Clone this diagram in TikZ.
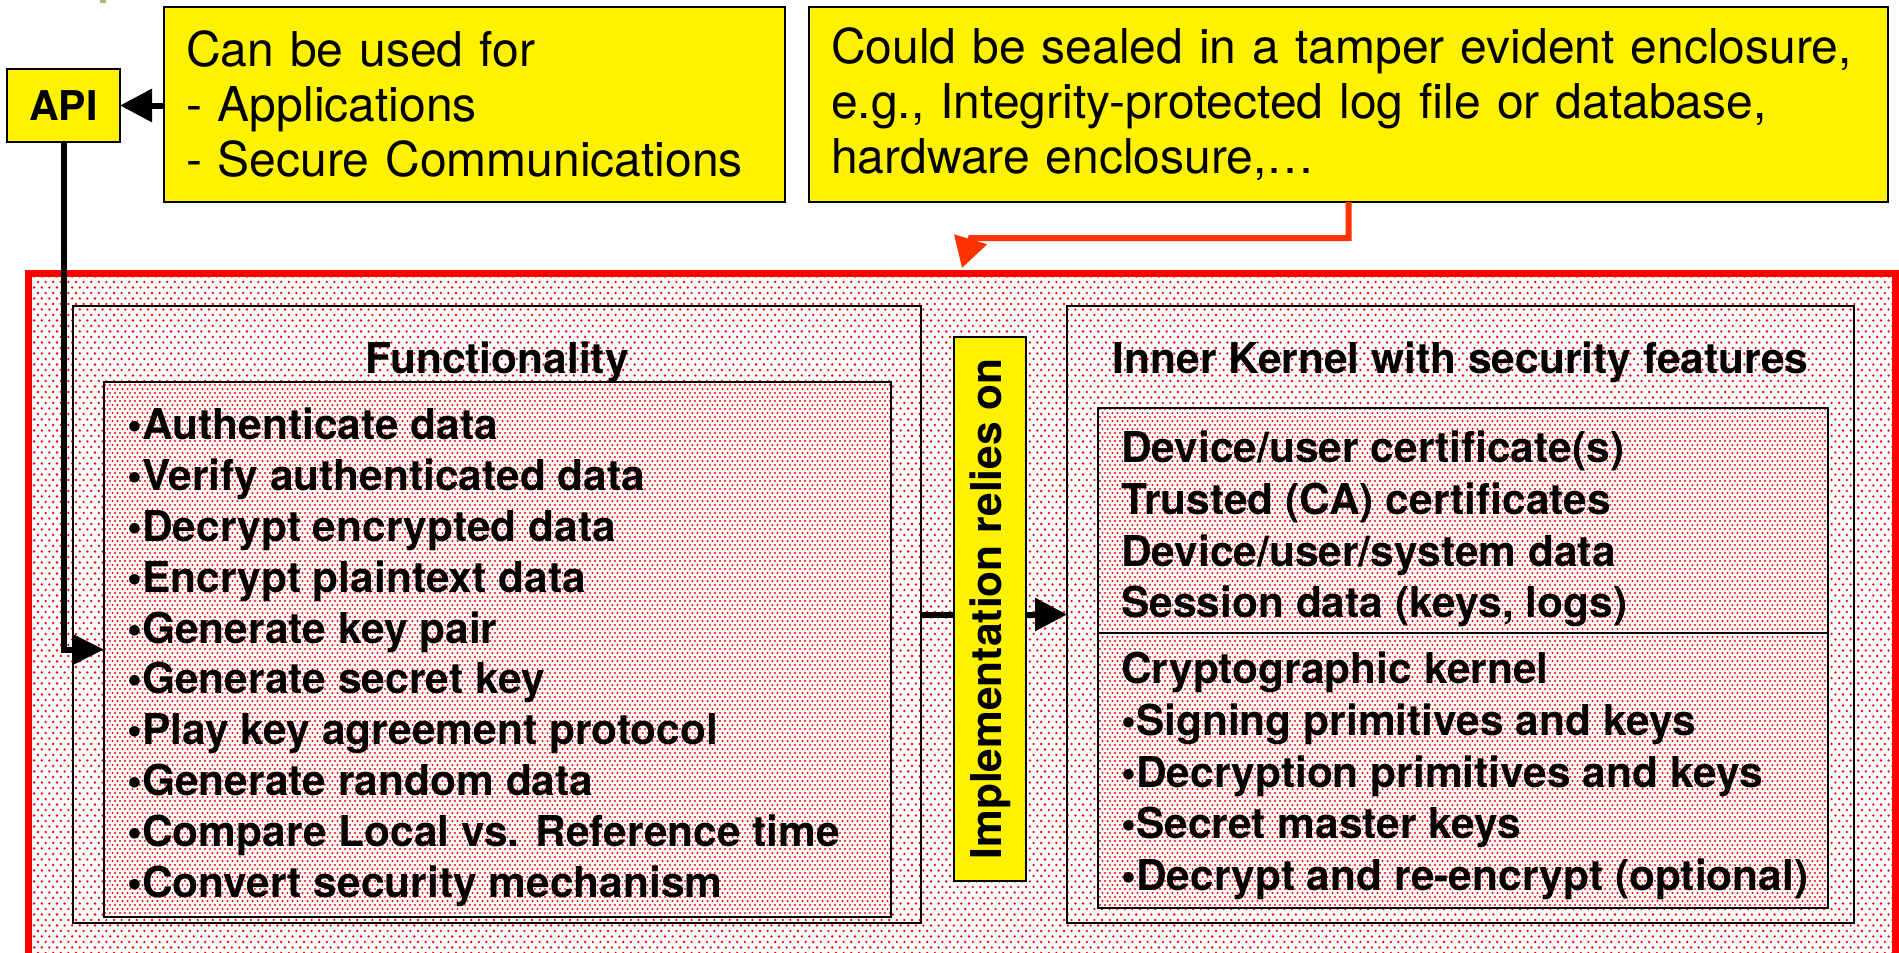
\documentclass[tikz,border=0pt]{standalone}
\usepackage{fontspec}
\setmainfont{TeX Gyre Heros}
\usetikzlibrary{arrows.meta,patterns}

\definecolor{sealred}{RGB}{255,51,0}
\definecolor{markgreen}{RGB}{163,190,110}

% dot screens (coarse for the enclosure, fine for the inner blocks)
\pgfdeclarepatternformonly{sparsedots}{\pgfqpoint{-1.4pt}{-1.4pt}}{\pgfqpoint{6.2pt}{9.6pt}}{\pgfqpoint{7.6pt}{11pt}}{%
  \pgfpathcircle{\pgfqpoint{0pt}{0pt}}{1.3pt}%
  \pgfpathcircle{\pgfqpoint{3.8pt}{5.5pt}}{1.3pt}%
  \pgfusepath{fill}}
\pgfdeclarepatternformonly{densedots}{\pgfqpoint{-1.2pt}{-1.2pt}}{\pgfqpoint{3.8pt}{6.8pt}}{\pgfqpoint{5pt}{8pt}}{%
  \pgfpathcircle{\pgfqpoint{0pt}{0pt}}{1.1pt}%
  \pgfpathcircle{\pgfqpoint{2.5pt}{4pt}}{1.1pt}%
  \pgfusepath{fill}}

\begin{document}
\begin{tikzpicture}[x=1pt,y=-1pt]

% ---- Styles ----
\tikzset{
  notebox/.style={rectangle, draw=black, line width=2pt, fill=yellow,
                  anchor=north west, align=left, inner xsep=22pt, inner ysep=0pt,
                  outer sep=0pt, font=\fontsize{48}{55}\selectfont},
  apibox/.style={rectangle, draw=black, line width=2pt, fill=yellow,
                 anchor=north west, outer sep=0pt,
                 font=\bfseries\fontsize{41}{49}\selectfont},
  enclosure/.style={rectangle, draw=red, line width=7pt, anchor=north west,
                    inner sep=0pt, outer sep=0pt,
                    pattern=sparsedots, pattern color=red},
  frame/.style={rectangle, draw=black, line width=2pt, anchor=north west,
                inner sep=0pt, outer sep=0pt},
  screen/.style={frame, preaction={fill=white},
                 pattern=densedots, pattern color=red},
  heading/.style={anchor=base, inner sep=0pt,
                  font=\bfseries\fontsize{42.5}{51}\selectfont},
  listtext/.style={anchor=north west, align=left, inner sep=0pt,
                   font=\bfseries\fontsize{42.5}{51}\selectfont},
  sidebox/.style={rectangle, draw=black, line width=2pt, fill=yellow,
                  rotate=90, inner sep=0pt, outer sep=0pt,
                  font=\bfseries\fontsize{42.5}{51}\selectfont},
  blkarrow/.style={line width=6pt, -{Triangle[length=32pt,width=32pt]}},
  sealarrow/.style={draw=sealred, line width=6pt,
                    -{Triangle[length=30pt,width=33pt]}},
}

\useasboundingbox (0,0) rectangle (1899,953);
\clip (0,0) rectangle (1899,953);

% small mark at top edge
\fill[markgreen] (100,0) rectangle (106,3);

% --- Top row: API and the two notes ---
\node[apibox, minimum width=113pt, minimum height=73pt] (api) at (7,69) {API};

\node[notebox, text width=577pt, minimum height=195pt] (usage) at (164,7) {%
  Can be used for\\
  - Applications\\
  - Secure Communications};

\node[notebox, text width=1035pt, minimum height=195pt] (seal) at (809,7) {%
  Could be sealed in a tamper evident enclosure,\\
  e.g., Integrity-protected log file or database,\\
  hardware enclosure,…};

% --- Red enclosure ---
\node[enclosure, minimum width=1867pt, minimum height=720pt] (encl) at (28.5,273) {};

% --- Functionality block ---
\node[frame, minimum width=848pt, minimum height=617pt] (funcout) at (73,306) {};
\node[heading] (functitle) at (497,373) {Functionality};
\node[screen, minimum width=787pt, minimum height=535pt] (funcin) at (104,382) {};
\node[listtext, font=\bfseries\fontsize{42.5}{50.8}\selectfont] (funclist) at (127,408) {%
  •Authenticate data\\
  •Verify authenticated data\\
  •Decrypt encrypted data\\
  •Encrypt plaintext data\\
  •Generate key pair\\
  •Generate secret key\\
  •Play key agreement protocol\\
  •Generate random data\\
  •Compare Local vs. Reference time\\
  •Convert security mechanism};

% --- Inner kernel block ---
\node[frame, minimum width=787pt, minimum height=617pt] (kernout) at (1067,306) {};
\node[heading] (kerntitle) at (1460.5,373) {Inner Kernel with security features};
\node[screen, minimum width=730pt, minimum height=500pt] (kernin) at (1098,408) {};
\coordinate (kernsplit) at (1098,633);
\draw[line width=2pt] (kernsplit) -- (kernsplit -| kernin.east);
\node[listtext, font=\bfseries\fontsize{42.5}{51.7}\selectfont] (storelist) at (1121,431) {%
  Device/user certificate(s)\\
  Trusted (CA) certificates\\
  Device/user/system data\\
  Session data (keys, logs)};
\node[listtext, font=\bfseries\fontsize{42.5}{51.7}\selectfont] (cryptolist) at (1121,652) {%
  Cryptographic kernel\\
  •Signing primitives and keys\\
  •Decryption primitives and keys\\
  •Secret master keys\\
  •Decrypt and re-encrypt (optional)};

% --- Link between the blocks ---
\draw[blkarrow] (funcout.east) -- (kernout.west);
\node[sidebox, minimum width=544pt, minimum height=72pt] (impl) at (990,609) {Implementation relies on};

% --- Connectors ---
\draw[blkarrow] (usage.west |- api.east) -- (api.east);
\draw[line width=6pt, -{Triangle[length=30pt,width=28pt]}] (api.south) |- (funcin.west);

\coordinate (sealbend) at (971,238);
\coordinate (sealtip) at (962,268);
\draw[sealarrow] (seal.south) |- (sealbend) -- (sealtip);

\end{tikzpicture}
\end{document}
